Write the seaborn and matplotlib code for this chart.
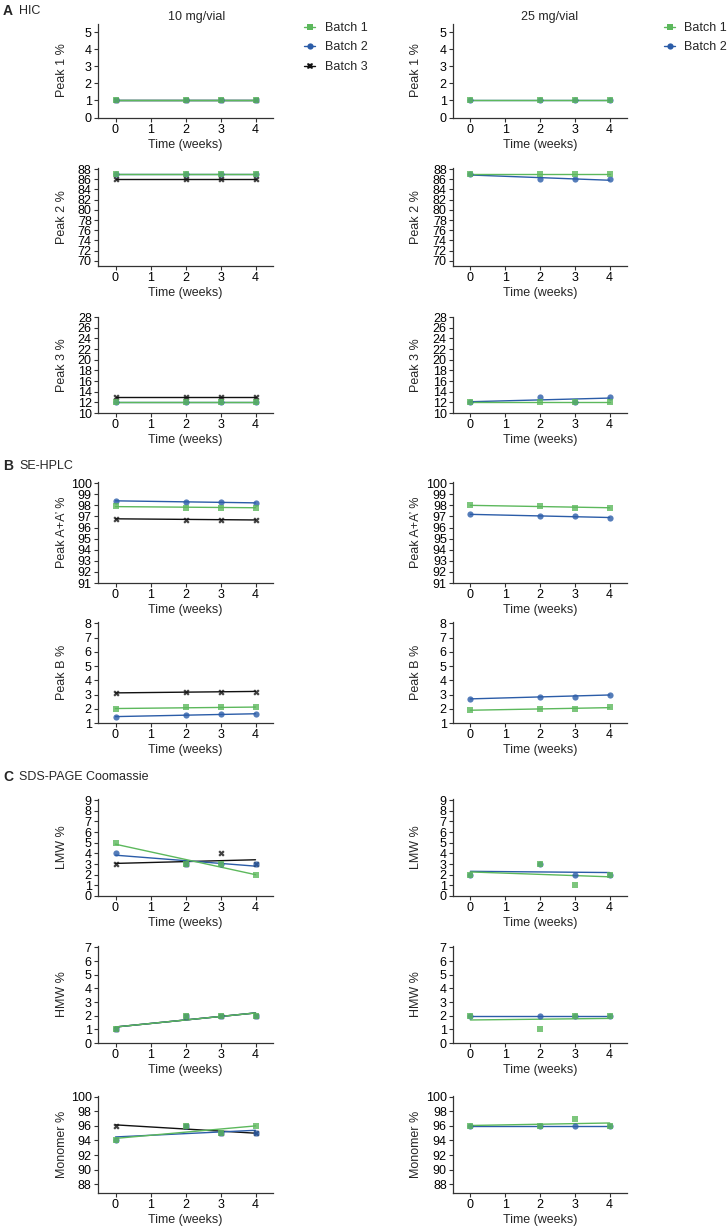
import numpy as np
import matplotlib.pyplot as plt
import seaborn as sns
from matplotlib.lines import Line2D

# ------- data -------
weeks   = [0, 2, 3, 4]
batches = ["Batch 1", "Batch 2", "Batch 3"]
colors  = ["#5cb85c", "#2b5ca8", "#111111"]
markers = ["s", "o", "X"]

# HIC
peak1_10 = [[1, 1, 1, 1], [1, 1, 1, 1], [1, 1, 1, 1]]
peak1_25 = [[1, 1, 1, 1], [1, 1, 1, 1]]
peak2_10 = [[87, 87, 87, 87], [87, 87, 87, 87], [86, 86, 86, 86]]
peak2_25 = [[87, 87, 87, 87], [87, 86, 86, 86]]
peak3_10 = [[12, 12, 12, 12], [12, 12, 12, 12], [13, 13, 13, 13]]
peak3_25 = [[12, 12, 12, 12], [12, 13, 12, 13]]
# SE-HPLC
peakA_10 = [[97.9, 97.8, 97.8, 97.8], [98.4, 98.3, 98.3, 98.2], [96.8, 96.7, 96.7, 96.7]]
peakA_25 = [[98.0, 97.9, 97.8, 97.8], [97.2, 97.0, 97.0, 96.9]]
peakB_10 = [[2.0, 2.1, 2.1, 2.1], [1.45, 1.55, 1.6, 1.65], [3.1, 3.2, 3.2, 3.2]]
peakB_25 = [[1.9, 2.0, 2.0, 2.1], [2.7, 2.85, 2.85, 3.0]]
# SDS-PAGE coomassie
lmw_10  = [[5, 3, 3, 2], [4, 3, 3, 3], [3, 3, 4, 3]]
lmw_25  = [[2, 3, 1, 2], [2, 3, 2, 2]]
hmw_10  = [[1, 2, 2, 2], [1, 2, 2, 2], [1, 2, 2, 2]]
hmw_25  = [[2, 1, 2, 2], [2, 2, 2, 2]]
mono_10 = [[94, 96, 95, 96], [94, 96, 95, 95], [96, 96, 95, 95]]
mono_25 = [[96, 96, 97, 96], [96, 96, 96, 96]]

# label, ylim, yticks, data 10 mg, data 25 mg
rows = [
    ("Peak 1 %",      (0, 5.5),     np.arange(0, 6),       peak1_10, peak1_25),
    ("Peak 2 %",      (69, 88.2),   np.arange(70, 89, 2),  peak2_10, peak2_25),
    ("Peak 3 %",      (10, 28.1),   np.arange(10, 29, 2),  peak3_10, peak3_25),
    ("Peak A+A\u2019 %", (91, 100.1), np.arange(91, 101),  peakA_10, peakA_25),
    ("Peak B %",      (1, 8.1),     np.arange(1, 9),       peakB_10, peakB_25),
    ("LMW %",         (0, 9.1),     np.arange(0, 10),      lmw_10,   lmw_25),
    ("HMW %",         (0, 7.1),     np.arange(0, 8),       hmw_10,   hmw_25),
    ("Monomer %",     (86.8, 100.1), np.arange(88, 101, 2), mono_10, mono_25),
]

# ------- layout (pixels) -------
W, H = 727, 1226
row_px = [(23.5, 117.5), (168, 266), (316.5, 413), (482, 583),
          (622, 723), (799, 896), (946, 1043), (1096, 1193)]
col_px = [(98, 273), (453, 627)]

sns.set_style("ticks")
plt.rcParams["font.family"] = ["Liberation Sans", "DejaVu Sans"]
fs = 9
ink = "#333333"

fig = plt.figure(figsize=(W / 100, H / 100), dpi=100)

for r, (lab, ylim, yt, d10, d25) in enumerate(rows):
    top, bot = row_px[r]
    for c, dat in enumerate([d10, d25]):
        x0, x1 = col_px[c]
        ax = fig.add_axes([x0 / W, 1 - bot / H, (x1 - x0) / W, (bot - top) / H])
        # draw batch 3 first so batch 1 ends up on top
        for b in reversed(range(len(dat))):
            sns.regplot(x=np.array(weeks), y=np.array(dat[b]), ax=ax, ci=None,
                        color=colors[b], marker=markers[b], truncate=True,
                        scatter_kws={"s": 20, "linewidths": 0, "zorder": 5 - b},
                        line_kws={"lw": 1.0, "zorder": 2})
        ax.set_xlim(-0.5, 4.5)
        ax.set_ylim(*ylim)
        ax.set_xticks([0, 1, 2, 3, 4])
        ax.set_yticks(yt)
        ax.tick_params(labelsize=fs, length=3, width=0.8, pad=1.5, colors=ink, labelcolor="black")
        ax.set_xlabel("Time (weeks)", fontsize=fs, labelpad=2)
        ax.set_ylabel(lab, fontsize=fs)
        ax.yaxis.set_label_coords(-0.17 if c == 0 else -0.18, 0.5)
        sns.despine(ax=ax)
        for s in ["left", "bottom"]:
            ax.spines[s].set_color(ink)
            ax.spines[s].set_linewidth(0.9)
        ax.patch.set_alpha(0)

# column titles
fig.text(197 / W, 1 - 17 / H, "10 mg/vial", ha="center", va="center", fontsize=fs)
fig.text(550 / W, 1 - 17 / H, "25 mg/vial", ha="center", va="center", fontsize=fs)

# section labels
for letter, name, y in [("A", "HIC", 11), ("B", "SE-HPLC", 466), ("C", "SDS-PAGE Coomassie", 777)]:
    fig.text(3 / W, 1 - y / H, letter, ha="left", va="center", fontsize=10, fontweight="bold")
    fig.text(19 / W, 1 - y / H, name, ha="left", va="center", fontsize=fs)

# legends
def handles(n):
    return [Line2D([0], [0], color=colors[i], marker=markers[i], lw=1, ms=4.5, mew=0)
            for i in range(n)]

fig.legend(handles(3), batches, loc="upper left", bbox_to_anchor=(304 / W, 1 - 22 / H),
           frameon=False, fontsize=fs, handlelength=0.9, handletextpad=0.8,
           borderpad=0, borderaxespad=0, labelspacing=0.6)
fig.legend(handles(2), batches[:2], loc="upper left", bbox_to_anchor=(664 / W, 1 - 22 / H),
           frameon=False, fontsize=fs, handlelength=0.9, handletextpad=0.7,
           borderpad=0, borderaxespad=0, labelspacing=0.6)

fig.savefig("out.png", dpi=100, facecolor="white")
